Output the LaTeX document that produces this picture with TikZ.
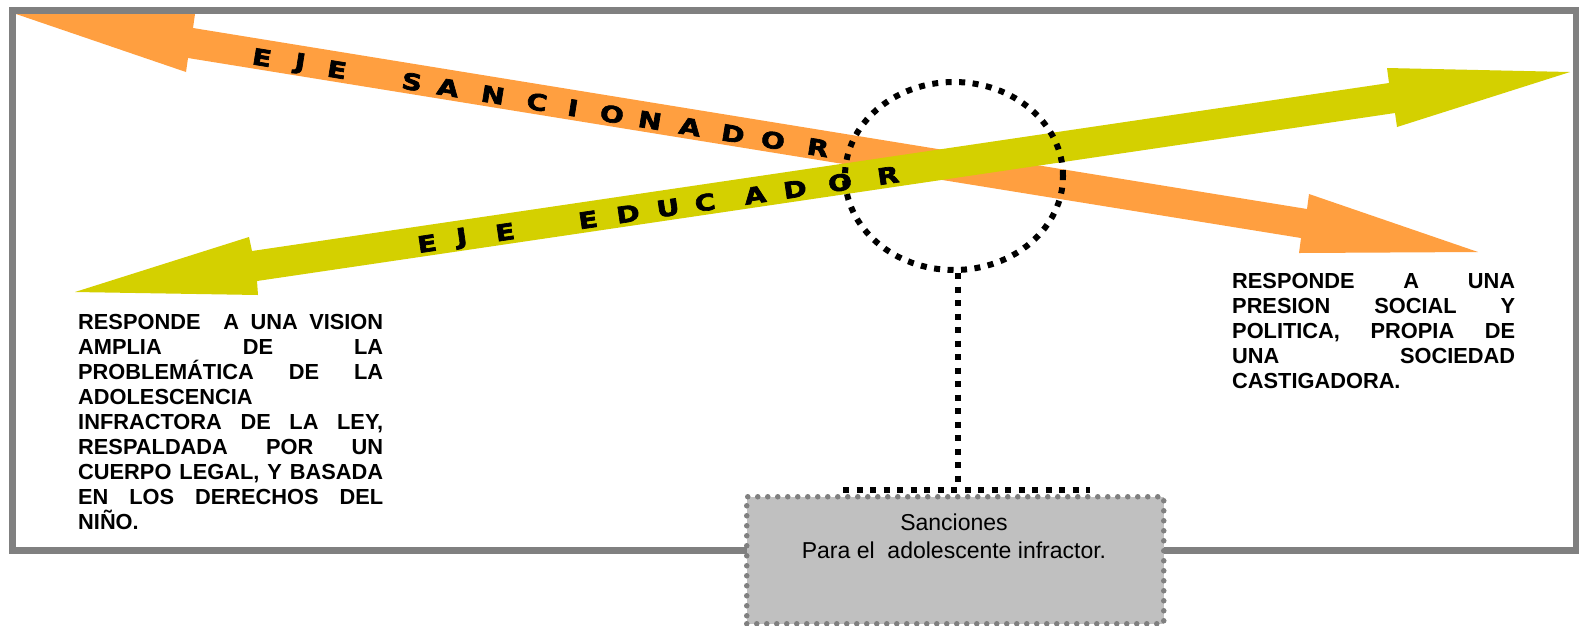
\documentclass[tikz,border=0pt]{standalone}
\usepackage{fontspec}
\setmainfont{Liberation Sans}
\newfontfamily\heavy{DejaVu Sans}[FakeStretch=1.25,BoldFeatures={FakeBold=3}]
\usetikzlibrary{shapes.geometric}
\definecolor{axorange}{HTML}{FF9F40}
\definecolor{axyellow}{HTML}{D4D000}
\definecolor{framegray}{HTML}{808080}
\definecolor{boxgray}{HTML}{C0C0C0}
\tikzset{
  frameline/.style={draw=framegray, line width=7pt},
  orangearrow/.style={fill=axorange},
  yellowarrow/.style={fill=axyellow},
  axisletter/.style={font=\heavy\bfseries\fontsize{22.5}{22.5}\selectfont, inner sep=0pt, text=black},
  sqdots/.style={draw=black, line width=6pt, dash pattern=on 6pt off 7.5pt},
  rounddots/.style={draw=framegray, line width=5.5pt, line cap=round, dash pattern=on 0pt off 10pt},
  bodytext/.style={font=\bfseries\fontsize{21.8}{25}\selectfont, inner sep=0pt, anchor=base west},
  boxtext/.style={font=\fontsize{23}{28}\selectfont, inner sep=0pt, anchor=base}
}
\begin{document}
\begin{tikzpicture}[x=1pt, y=-1pt]
\useasboundingbox[fill=white] (0,0) rectangle (1579,625);
% frame
\draw[frameline] (12,10) rectangle (1576,550);
% orange axis (sancionador)
\fill[orangearrow] (16,14) -- (195,14) -- (193,28) -- (1307,209) -- (1309,194) -- (1478,252)
  -- (1299,253) -- (1301,238) -- (188,58) -- (186,72) -- cycle;
\foreach \ch/\px [count=\i] in {E/262, J/300, E/337, S/412, A/448, N/493, C/537, I/573, O/612, N/650, A/690, D/733, O/773, R/818}
  \node[axisletter, rotate=-9.2] (s\i) at (\px, {57.5+(\px-262)*0.162}) {\ch};
% yellow axis (educador)
\fill[yellowarrow] (75,292) -- (249,237) -- (252,251) -- (1389,83) -- (1387,68) -- (1570,72)
  -- (1397,127) -- (1395,113) -- (257,281) -- (258,295) -- cycle;
\foreach \ch/\px [count=\i] in {E/427, J/462, E/505, E/588, D/628, U/668, C/705, A/755, D/795, O/840, R/888}
  \node[axisletter, rotate=8.4] (e\i) at (\px, {243.5-(\px-427)*0.1476}) {\ch};
% dotted circle and connector
\node[ellipse, sqdots, minimum width=218pt, minimum height=188pt, inner sep=0pt] (circ) at (954,176) {};
\coordinate (jn) at (958,486);
\coordinate (jl) at (843,490);
\coordinate (jr) at (1090,490);
\draw[sqdots] (circ.south -| jn) -- (jn);
\draw[sqdots] (jl) -- (jr);
% box
\node[rounddots, fill=boxgray, minimum width=417pt, minimum height=127pt, inner sep=0pt, anchor=north west] (box) at (744,494) {};
\node[boxtext] (b1) at (954,530.5) {Sanciones};
\node[boxtext] (b2) at (954,558) {Para el\ \ adolescente infractor.};
% left text
\node[bodytext] (l1) at (78,329) {\makebox[305pt][s]{RESPONDE\ \ A UNA VISION}};
\node[bodytext] (l2) at (78,354.1) {\makebox[305pt][s]{AMPLIA DE LA}};
\node[bodytext] (l3) at (78,379.2) {\makebox[305pt][s]{PROBLEMÁTICA DE LA}};
\node[bodytext] (l4) at (78,404.3) {\makebox[305pt][l]{ADOLESCENCIA}};
\node[bodytext] (l5) at (78,429.4) {\makebox[305pt][s]{INFRACTORA DE LA LEY,}};
\node[bodytext] (l6) at (78,454.5) {\makebox[305pt][s]{RESPALDADA POR UN}};
\node[bodytext] (l7) at (78,479.6) {\makebox[305pt][s]{CUERPO LEGAL, Y BASADA}};
\node[bodytext] (l8) at (78,504.7) {\makebox[305pt][s]{EN LOS DERECHOS DEL}};
\node[bodytext] (l9) at (78,529.8) {\makebox[305pt][l]{NIÑO.}};
% right text
\node[bodytext] (r1) at (1232,288) {\makebox[283pt][s]{RESPONDE A UNA}};
\node[bodytext] (r2) at (1232,313) {\makebox[283pt][s]{PRESION SOCIAL Y}};
\node[bodytext] (r3) at (1232,338) {\makebox[283pt][s]{POLITICA, PROPIA DE}};
\node[bodytext] (r4) at (1232,363) {\makebox[283pt][s]{UNA SOCIEDAD}};
\node[bodytext] (r5) at (1232,388) {\makebox[283pt][l]{CASTIGADORA.}};
\end{tikzpicture}
\end{document}
